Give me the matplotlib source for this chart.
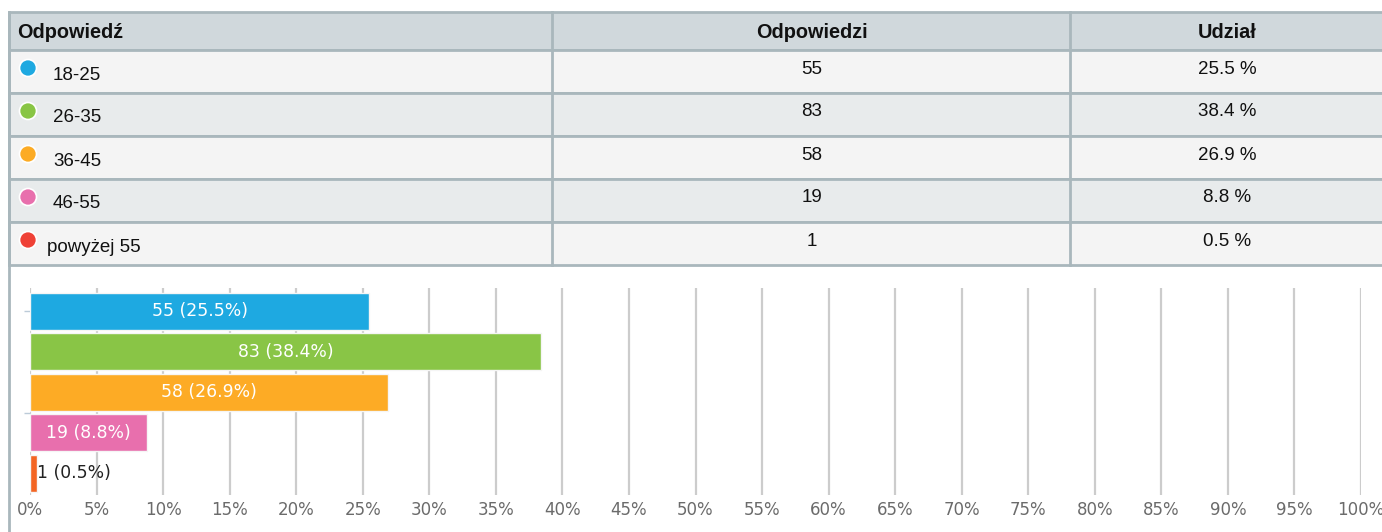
import matplotlib.pyplot as plt
from matplotlib.patches import Rectangle, Circle

plt.rcParams["font.family"] = ["DejaVu Sans"]

W, H = 1382, 532

categories = ["18-25", "26-35", "36-45", "46-55", "powyżej 55"]
counts = [55, 83, 58, 19, 1]
shares = [25.5, 38.4, 26.9, 8.8, 0.5]
headers = ["Odpowiedź", "Odpowiedzi", "Udział"]
dot_colors = ["#1ea9e1", "#88c544", "#fcab24", "#e86fad", "#ef4136"]
bar_colors = ["#1ea9e1", "#89c546", "#fdab25", "#e86fad", "#f36523"]
x_ticks = list(range(0, 101, 5))

BORDER = "#a9b7bc"
HEAD_BG = "#d0d8dc"
ROW_BG = ["#f4f4f4", "#e8ebec"]
TABLE_FONT = ["Liberation Sans", "DejaVu Sans"]
CHART_FONT = ["DejaVu Sans"]

fig = plt.figure(figsize=(W / 100, H / 100), dpi=100)
fig.patch.set_facecolor("white")

# pixel-space overlay for the table
bg = fig.add_axes([0, 0, 1, 1])
bg.set_xlim(0, W)
bg.set_ylim(H, 0)
bg.axis("off")

left, top = 9, 12
col_x = [9, 552, 1070, W + 5]
head_h, row_h = 38, 43

bg.add_patch(Rectangle((left, top), W - left + 5, head_h, facecolor=HEAD_BG,
                       edgecolor=BORDER, lw=2))
for i in range(len(categories)):
    y0 = top + head_h + i * row_h
    bg.add_patch(Rectangle((left, y0), W - left + 5, row_h, facecolor=ROW_BG[i % 2],
                           edgecolor=BORDER, lw=2))
table_bottom = top + head_h + len(categories) * row_h
for cx in col_x[1:3]:
    bg.plot([cx, cx], [top, table_bottom], color=BORDER, lw=2)
# left border runs down past the chart
bg.plot([left, left], [top, H + 2], color=BORDER, lw=2)

centers = [(col_x[1] + col_x[2]) / 2 + 1, (col_x[2] + 1387) / 2 - 1]
hy = top + head_h / 2 + 1
bg.text(17, hy, headers[0], fontsize=14.3, fontweight="bold", family=TABLE_FONT,
        va="center", ha="left", color="#111111")
bg.text(centers[0], hy, headers[1], fontsize=14.3, fontweight="bold", family=TABLE_FONT,
        va="center", ha="center", color="#111111")
bg.text(centers[1], hy, headers[2], fontsize=14.3, fontweight="bold", family=TABLE_FONT,
        va="center", ha="center", color="#111111")

for i, (cat, n, s) in enumerate(zip(categories, counts, shares)):
    y0 = top + head_h + i * row_h
    bg.add_patch(Circle((28, y0 + 18), 8.5, facecolor=dot_colors[i], edgecolor="white",
                        lw=1.2))
    lx = 47 if len(cat) > 6 else 53
    bg.text(lx, y0 + 25, cat, fontsize=13.5, family=TABLE_FONT, va="center",
            ha="left", color="#111111")
    bg.text(centers[0], y0 + 19, str(n), fontsize=13.5, family=TABLE_FONT,
            va="center", ha="center", color="#111111")
    bg.text(centers[1], y0 + 19, f"{s} %", fontsize=13.5, family=TABLE_FONT,
            va="center", ha="center", color="#111111")

# bar chart
ax = fig.add_axes([30 / W, 1 - 495 / H, 1331 / W, 207 / H])
ax.patch.set_alpha(0)
y = list(range(len(categories)))
bars = ax.barh(y, shares, height=0.91, color=bar_colors, edgecolor="#f5f5f5",
               linewidth=1, zorder=3)
for i, (n, s) in enumerate(zip(counts, shares)):
    label = f"{n} ({s}%)"
    if s < 3:
        ax.text(s, i, label, ha="left", va="center", fontsize=12.4, color="#222222",
                family=CHART_FONT, zorder=4)
    else:
        ax.text(s / 2, i, label, ha="center", va="center", fontsize=12.4,
                color="white", family=CHART_FONT, zorder=4)

ax.set_xlim(0, 100)
ax.set_ylim(4.53, -0.57)
ax.set_xticks(x_ticks)
ax.set_xticklabels([f"{t}%" for t in x_ticks], family=CHART_FONT)
ax.set_yticks([0, 2.5])
ax.set_yticklabels([])
ax.tick_params(axis="y", length=4, width=1, color="#bccbd8", pad=0)
ax.tick_params(axis="x", length=0, pad=4, labelsize=12, labelcolor="#6b6b6b")
ax.grid(axis="x", color="#cccccc", lw=1.6, zorder=0)
for sp in ax.spines.values():
    sp.set_visible(False)

fig.savefig("out.png", dpi=100)
